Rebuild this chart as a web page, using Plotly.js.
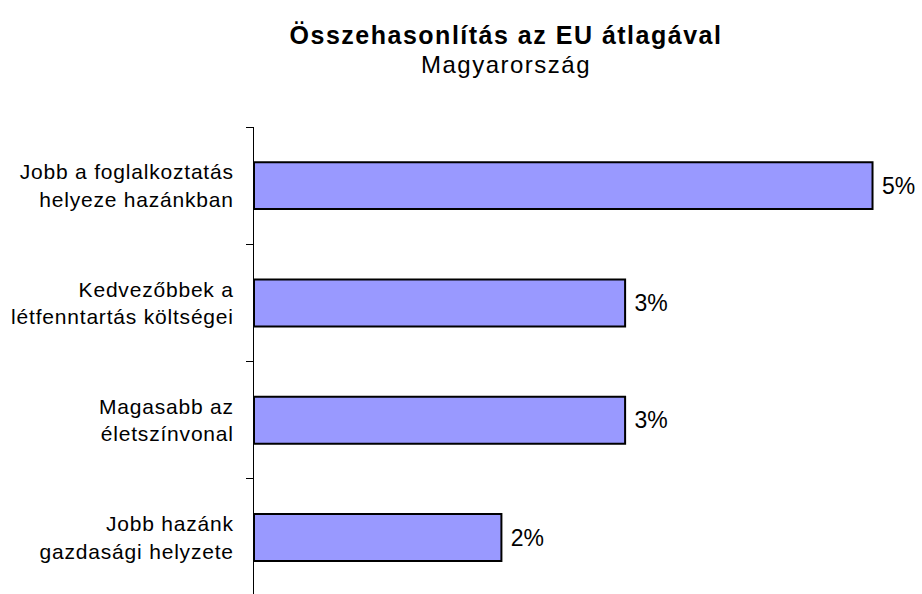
<!DOCTYPE html>
<html>
<head>
<meta charset="utf-8">
<script src="https://cdn.plot.ly/plotly-3.0.1.min.js"></script>
<style>
  html, body { margin: 0; padding: 0; background: #ffffff; }
  #chart { width: 922px; height: 594px; }
  .gtitle { letter-spacing: 1.5px; }
  .ytick text { letter-spacing: 0.8px; }
</style>
</head>
<body>
<div id="chart"></div>
<script>
// Data (top to bottom)
const categories = [
  "Jobb a foglalkoztatás<br>helyeze hazánkban",
  "Kedvezőbbek a<br>létfenntartás költségei",
  "Magasabb az<br>életszínvonal",
  "Jobb hazánk<br>gazdasági helyzete"
];
const values = [5, 3, 3, 2];
const titleText = "Összehasonlítás az EU átlagával";
const subtitleText = "Magyarország";

const trace = {
  type: "bar",
  orientation: "h",
  y: categories,
  x: values,
  width: 0.4,
  marker: { color: "#9999FF", line: { color: "#000000", width: 2 } },
  texttemplate: " %{x}%",
  textposition: "outside",
  textfont: { family: "Liberation Sans, Arial, sans-serif", size: 23, color: "#000000" },
  cliponaxis: false,
  hoverinfo: "none"
};

const layout = {
  width: 922,
  height: 594,
  paper_bgcolor: "#ffffff",
  plot_bgcolor: "#ffffff",
  showlegend: false,
  font: { family: "Liberation Sans, Arial, sans-serif", color: "#000000" },
  margin: { l: 254, r: 0, t: 127, b: 0, autoexpand: false },
  title: {
    text: "<b><span style='font-size:25px'>" + titleText + "</span></b><br>" +
          "<span style='font-size:24px'>" + subtitleText + "</span>",
    font: { family: "Liberation Sans, Arial, sans-serif", size: 22, color: "#000000" },
    x: 506 / 922,
    xanchor: "center",
    xref: "container",
    y: 0.926,
    yanchor: "top",
    yref: "container"
  },
  xaxis: {
    range: [0, 5.40],
    visible: false,
    fixedrange: true
  },
  yaxis: {
    type: "category",
    range: [3.481, -0.5],
    autorange: false,
    showline: true,
    linecolor: "#000000",
    linewidth: 1,
    showgrid: false,
    zeroline: false,
    ticks: "outside",
    tickson: "boundaries",
    ticklen: 7,
    tickwidth: 1,
    tickcolor: "#000000",
    ticklabelstandoff: 15,
    tickfont: { family: "Liberation Sans, Arial, sans-serif", size: 21, color: "#000000" },
    automargin: false,
    fixedrange: true
  }
};

Plotly.newPlot("chart", [trace], layout, { displayModeBar: false, staticPlot: true });
</script>
</body>
</html>
